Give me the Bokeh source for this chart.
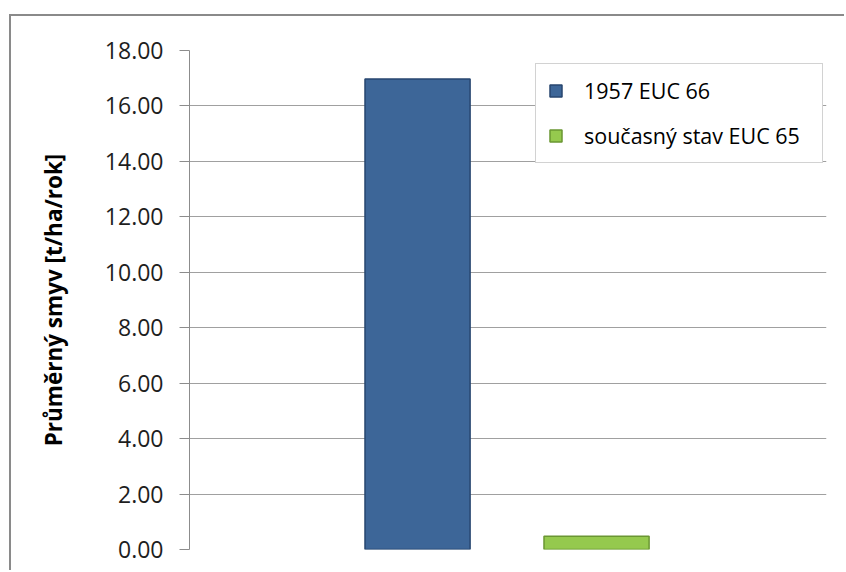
from bokeh.plotting import figure
from bokeh.models import (FactorRange, Range1d, FixedTicker, NumeralTickFormatter,
                          ColumnDataSource, Legend, LegendItem)
from bokeh.transform import dodge
from bokeh.embed import file_html
from bokeh.resources import INLINE

# ---- data ----
category = ["erosion"]
series_names = ["1957 EUC 66", "současný stav EUC 65"]
values_1957 = [16.97]
values_current = [0.48]
y_ticks = [0, 2, 4, 6, 8, 10, 12, 14, 16, 18]
y_title = "Průměrný smyv [t/ha/rok]"

src = ColumnDataSource(data=dict(cat=category, v1957=values_1957, vcur=values_current))

p = figure(
    x_range=FactorRange(factors=category, range_padding=0),
    y_range=Range1d(0, 18),
    width=835, height=556,
    output_backend="svg", toolbar_location=None,
    min_border_left=178, min_border_top=34, min_border_right=20, min_border_bottom=23,
)
p.styles = {"margin-left": "9px", "margin-top": "14px",
            "border-left": "2px solid #8a8a8a", "border-top": "2px solid #8a8a8a"}
p.outline_line_color = None
p.background_fill_color = "white"

r1 = p.vbar(x=dodge("cat", -0.142, range=p.x_range), top="v1957", width=0.165, source=src,
            fill_color="#3D6698", line_color="#27466F", line_width=1.5)
r2 = p.vbar(x=dodge("cat", 0.139, range=p.x_range), top="vcur", width=0.165, source=src,
            fill_color="#95C94E", line_color="#6A9632", line_width=1.5)

p.xaxis.visible = False
p.xgrid.grid_line_color = None
p.ygrid.grid_line_color = "#a0a0a0"
p.ygrid.grid_line_width = 1

ax = p.yaxis[0]
ax.ticker = FixedTicker(ticks=y_ticks)
ax.formatter = NumeralTickFormatter(format="0.00")
ax.axis_line_color = "#8c8c8c"
ax.major_tick_line_color = "#8c8c8c"
ax.major_tick_out = 10
ax.major_tick_in = 0
ax.minor_tick_line_color = None
ax.major_label_standoff = 16
ax.major_label_text_font = "Open Sans"
ax.major_label_text_font_size = "23px"
ax.major_label_text_color = "#1e1e1e"
ax.axis_label = y_title
ax.axis_label_text_font = "Open Sans"
ax.axis_label_text_font_style = "bold"
ax.axis_label_text_font_size = "22.5px"
ax.axis_label_text_color = "#000000"
ax.axis_label_standoff = 33

legend = Legend(
    items=[LegendItem(label=series_names[0], renderers=[r1]),
           LegendItem(label=series_names[1], renderers=[r2])],
    location=(346, 386),
    padding=12, spacing=16, glyph_width=15, glyph_height=15,
    label_standoff=21, label_width=226,
    label_text_font="Open Sans", label_text_font_size="21.5px",
    label_text_color="#000000",
    border_line_color="#a6a6a6", border_line_width=1,
    background_fill_color="white", background_fill_alpha=1,
)
p.add_layout(legend, "center")

open("out.html", "w").write(file_html(p, INLINE))
